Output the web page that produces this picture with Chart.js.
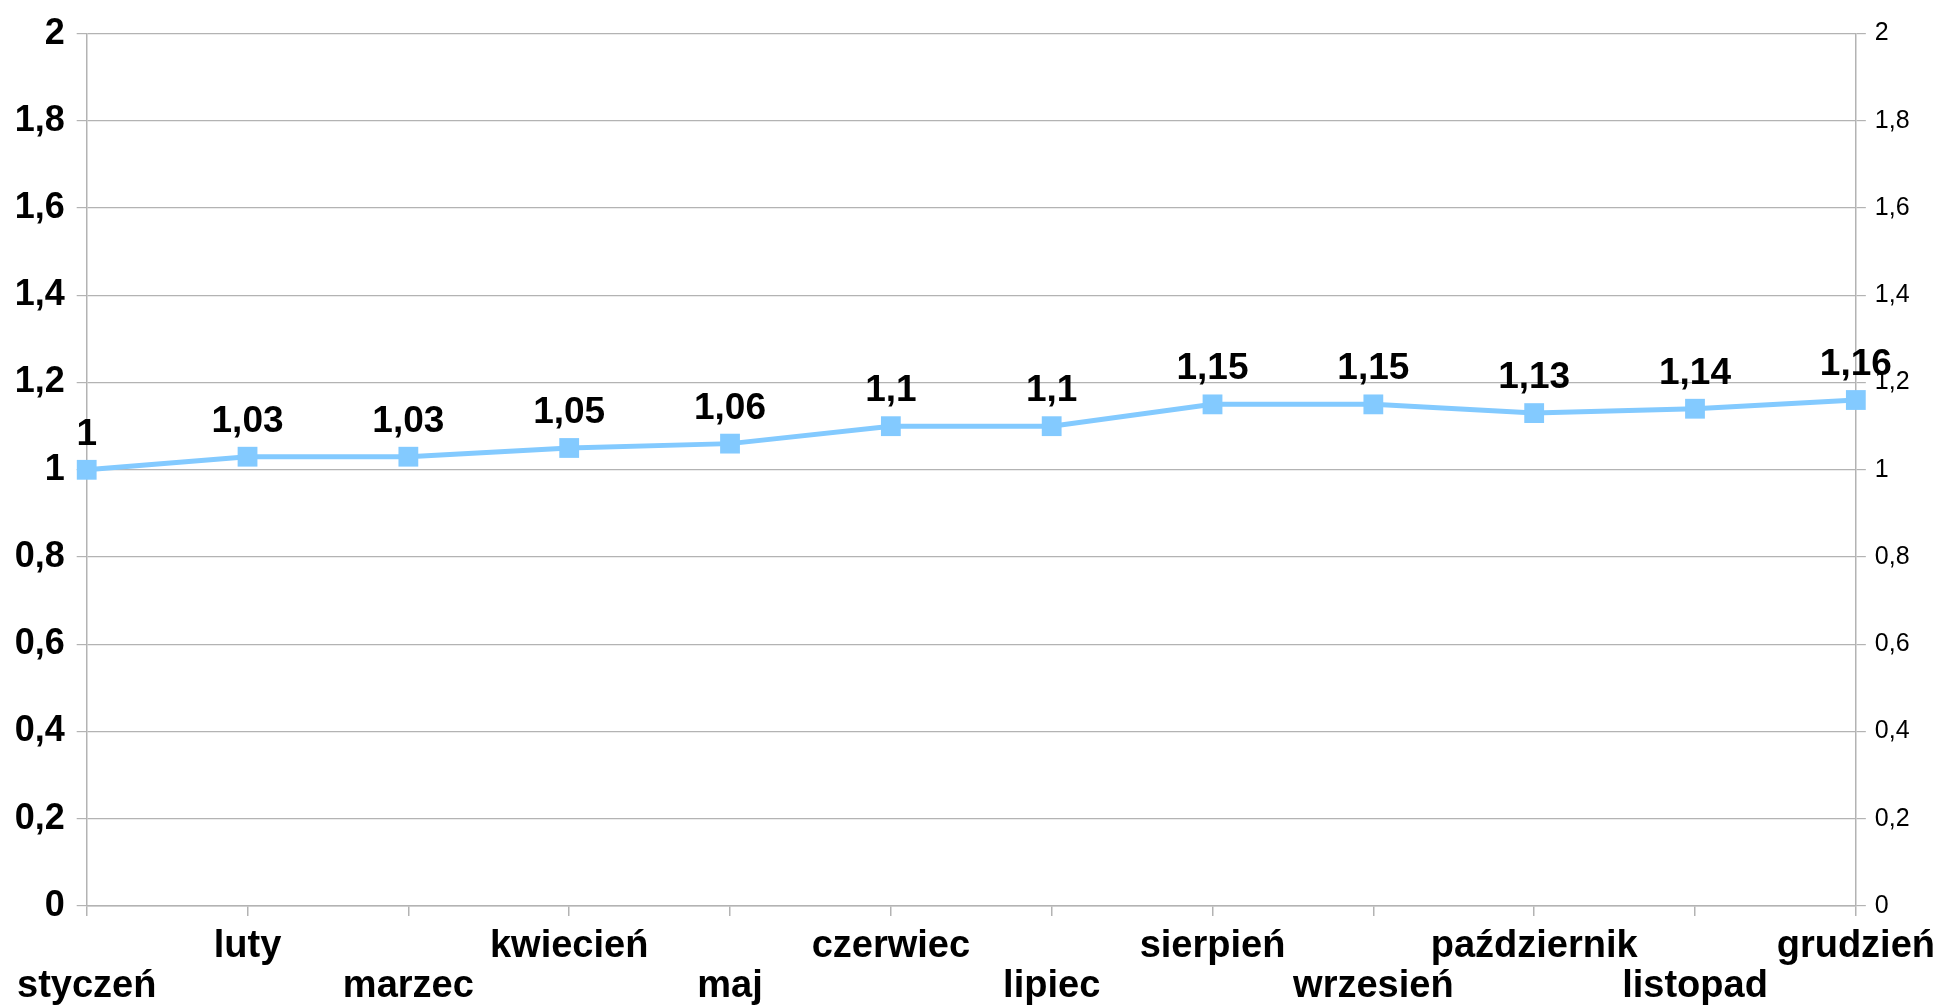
<!DOCTYPE html>
<html>
<head>
<meta charset="utf-8">
<script src="https://cdn.jsdelivr.net/npm/chart.js@4/dist/chart.umd.min.js"></script>
<style>
  html, body { margin: 0; padding: 0; background: #fff; }
  #wrap { width: 1946px; height: 1007px; position: relative; }
</style>
</head>
<body>
<div id="wrap"><canvas id="wykres"></canvas></div>
<script>
const miesiace = ['styczeń', 'luty', 'marzec', 'kwiecień', 'maj', 'czerwiec',
                  'lipiec', 'sierpień', 'wrzesień', 'październik', 'listopad', 'grudzień'];
const wartosci = [1, 1.03, 1.03, 1.05, 1.06, 1.1, 1.1, 1.15, 1.15, 1.13, 1.14, 1.16];
const etykietyY = ['0', '0,2', '0,4', '0,6', '0,8', '1', '1,2', '1,4', '1,6', '1,8', '2'];

const szary = '#b3b3b3';
const niebieski = '#83caff';
const czcionka = "'Liberation Sans', Arial, sans-serif";

// etykiety osi X w dwóch rzędach (na przemian)
const etykietyX = miesiace.map((m, i) => i % 2 === 0 ? ['', m] : [m]);

function fmt(v) {
    return String(v).replace('.', ',');
}

// własne etykiety wartości nad punktami
const etykietyDanych = {
    id: 'etykietyDanych',
    afterDatasetsDraw(chart) {
        const ctx = chart.ctx;
        const meta = chart.getDatasetMeta(0);
        ctx.save();
        ctx.font = 'bold 37px ' + czcionka;
        ctx.fillStyle = '#000';
        ctx.textAlign = 'center';
        ctx.textBaseline = 'alphabetic';
        meta.data.forEach((pt, i) => {
            ctx.fillText(fmt(wartosci[i]), pt.x, pt.y - 25);
        });
        ctx.restore();
    }
};

new Chart(document.getElementById('wykres'), {
    type: 'line',
    data: {
        labels: etykietyX,
        datasets: [{
            data: wartosci,
            borderColor: niebieski,
            backgroundColor: niebieski,
            borderWidth: 5,
            tension: 0,
            pointStyle: 'rect',
            pointRadius: 14,
            pointHoverRadius: 14,
            pointBorderWidth: 0,
            clip: false
        }]
    },
    options: {
        responsive: true,
        maintainAspectRatio: false,
        animation: false,
        layout: { autoPadding: false, padding: { top: 26.7, left: 0, right: 0, bottom: 0 } },
        plugins: {
            legend: { display: false },
            tooltip: { enabled: false }
        },
        scales: {
            x: {
                offset: false,
                border: { color: szary, width: 1.5 },
                grid: { drawOnChartArea: false, drawTicks: true, tickLength: 10, color: szary, lineWidth: 1.5 },
                ticks: {
                    autoSkip: false,
                    maxRotation: 0,
                    minRotation: 0,
                    padding: 11,
                    color: '#000',
                    font: { family: czcionka, size: 38, weight: 'bold', lineHeight: 1.05 }
                },
                afterFit(s) { s.height = 101; }
            },
            y: {
                position: 'left',
                min: 0,
                max: 2,
                border: { color: szary, width: 1.5 },
                grid: { color: szary, lineWidth: 1.2, tickLength: 10 },
                ticks: {
                    stepSize: 0.2,
                    padding: 12,
                    color: '#000',
                    font: { family: czcionka, size: 36, weight: 'bold' },
                    callback: (v, i) => etykietyY[i]
                },
                afterFit(s) { s.width = 86.7; }
            },
            y2: {
                position: 'right',
                min: 0,
                max: 2,
                border: { color: szary, width: 1.5 },
                grid: { drawOnChartArea: false, color: szary, lineWidth: 1.2, tickLength: 10 },
                ticks: {
                    stepSize: 0.2,
                    padding: 9,
                    color: '#000',
                    font: { family: czcionka, size: 25 },
                    callback: (v, i) => etykietyY[i]
                },
                afterFit(s) { s.width = 87.3; }
            }
        }
    },
    plugins: [etykietyDanych]
});
</script>
</body>
</html>
